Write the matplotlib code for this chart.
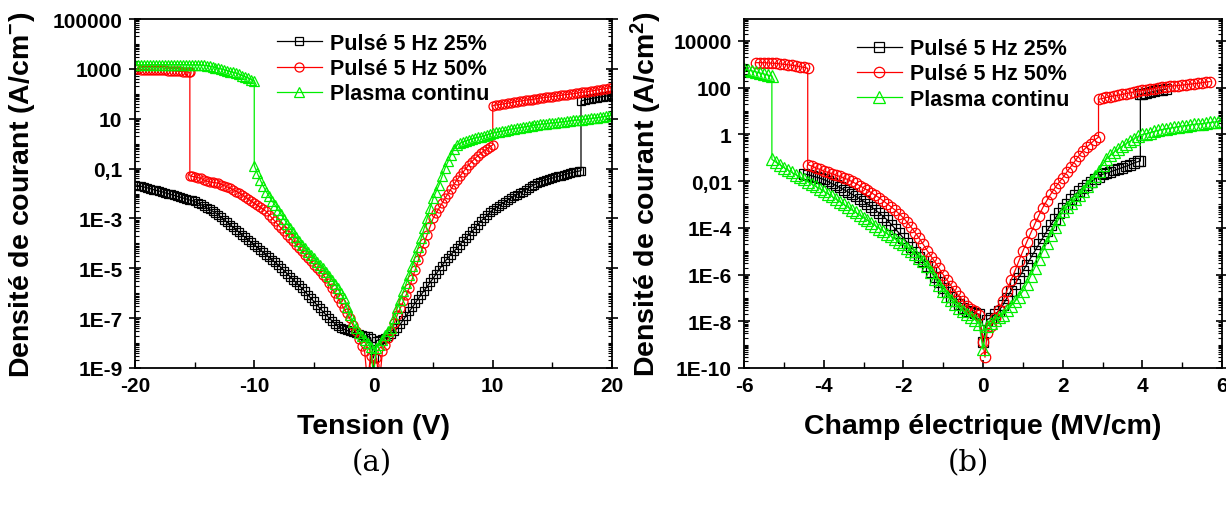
import numpy as np
import matplotlib
matplotlib.use("Agg")
import matplotlib.pyplot as plt
from matplotlib.ticker import FixedLocator, FixedFormatter, LogLocator, NullFormatter, MultipleLocator

plt.rcParams['font.family'] = ['Liberation Sans', 'DejaVu Sans']
plt.rcParams['font.weight'] = 'bold'
plt.rcParams['mathtext.default'] = 'regular'
plt.rcParams['axes.unicode_minus'] = False

series_labels = ["Pulsé 5 Hz 25%", "Pulsé 5 Hz 50%", "Plasma continu"]

# ---------------- Panel (a): (voltage V, log10 J [A/cm²]) ----------------
pts_a_25 = [
    (-20, -1.65), (-19.75, -1.68), (-19.5, -1.71), (-19.25, -1.74), (-19, -1.77), (-18.75, -1.80),
    (-18.5, -1.84), (-18.25, -1.87), (-18, -1.90), (-17.75, -1.93), (-17.5, -1.97), (-17.25, -2.00),
    (-17, -2.04), (-16.75, -2.07), (-16.5, -2.11), (-16.25, -2.14), (-16, -2.18), (-15.75, -2.21),
    (-15.5, -2.25), (-15.25, -2.28), (-15, -2.32), (-14.75, -2.38), (-14.5, -2.44), (-14.25, -2.50),
    (-14, -2.57), (-13.75, -2.64), (-13.5, -2.71), (-13.25, -2.78), (-13, -2.86), (-12.75, -2.96),
    (-12.5, -3.06), (-12.25, -3.16), (-12, -3.26), (-11.75, -3.36), (-11.5, -3.46), (-11.25, -3.56),
    (-11, -3.66), (-10.75, -3.76), (-10.5, -3.86), (-10.25, -3.96), (-10, -4.06), (-9.75, -4.16),
    (-9.5, -4.26), (-9.25, -4.36), (-9, -4.46), (-8.75, -4.56), (-8.5, -4.66), (-8.25, -4.76),
    (-8, -4.86), (-7.75, -4.97), (-7.5, -5.09), (-7.25, -5.21), (-7, -5.33), (-6.75, -5.45),
    (-6.5, -5.57), (-6.25, -5.68), (-6, -5.80), (-5.75, -5.93), (-5.5, -6.07), (-5.25, -6.20),
    (-5, -6.33), (-4.75, -6.47), (-4.5, -6.60), (-4.25, -6.73), (-4, -6.86), (-3.75, -6.98),
    (-3.5, -7.10), (-3.25, -7.22), (-3, -7.33), (-2.75, -7.39), (-2.5, -7.44), (-2.25, -7.49),
    (-2, -7.53), (-1.75, -7.57), (-1.5, -7.60), (-1.25, -7.63), (-1, -7.66), (-0.75, -7.70),
    (-0.5, -7.73), (-0.25, -7.78), (0, -8.60), (0.25, -7.90), (0.5, -7.86), (0.75, -7.83),
    (1, -7.80), (1.25, -7.71), (1.5, -7.62), (1.75, -7.51), (2, -7.40), (2.25, -7.24),
    (2.5, -7.07), (2.75, -6.90), (3, -6.73), (3.25, -6.57), (3.5, -6.40), (3.75, -6.23),
    (4, -6.06), (4.25, -5.90), (4.5, -5.73), (4.75, -5.57), (5, -5.40), (5.25, -5.23),
    (5.5, -5.06), (5.75, -4.89), (6, -4.72), (6.25, -4.58), (6.5, -4.45), (6.75, -4.32),
    (7, -4.19), (7.25, -4.05), (7.5, -3.92), (7.75, -3.79), (8, -3.66), (8.25, -3.52),
    (8.5, -3.39), (8.75, -3.25), (9, -3.12), (9.25, -3.00), (9.5, -2.88), (9.75, -2.76),
    (10, -2.65), (10.25, -2.57), (10.5, -2.49), (10.75, -2.41), (11, -2.34), (11.25, -2.26),
    (11.5, -2.19), (11.75, -2.12), (12, -2.05), (12.25, -1.98), (12.5, -1.92), (12.75, -1.85),
    (13, -1.78), (13.25, -1.71), (13.5, -1.65), (13.75, -1.58), (14, -1.52), (14.25, -1.48),
    (14.5, -1.45), (14.75, -1.41), (15, -1.38), (15.25, -1.34), (15.5, -1.31), (15.75, -1.28),
    (16, -1.25), (16.25, -1.21), (16.5, -1.18), (16.75, -1.15), (17, -1.12), (17.25, -1.10),
    (17.4, -1.08), (17.4, 1.71), (17.75, 1.76), (18, 1.78), (18.25, 1.81), (18.5, 1.83),
    (18.75, 1.85), (19, 1.87), (19.25, 1.89), (19.5, 1.91), (19.75, 1.93), (20, 1.95)]

pts_a_50 = [
    (-20, 2.98), (-19.75, 2.98), (-19.5, 2.97), (-19.25, 2.97), (-19, 2.97), (-18.75, 2.96),
    (-18.5, 2.96), (-18.25, 2.95), (-18, 2.95), (-17.75, 2.94), (-17.5, 2.94), (-17.25, 2.93),
    (-17, 2.93), (-16.75, 2.92), (-16.5, 2.91), (-16.25, 2.90), (-16, 2.89), (-15.75, 2.88),
    (-15.5, 2.87), (-15.4, 2.86), (-15.4, -1.29), (-15.25, -1.31), (-15, -1.33), (-14.75, -1.36),
    (-14.5, -1.39), (-14.25, -1.45), (-14, -1.50), (-13.75, -1.53), (-13.5, -1.55), (-13.25, -1.57),
    (-13, -1.59), (-12.75, -1.64), (-12.5, -1.69), (-12.25, -1.74), (-12, -1.79), (-11.75, -1.85),
    (-11.5, -1.92), (-11.25, -1.98), (-11, -2.05), (-10.75, -2.13), (-10.5, -2.22), (-10.25, -2.30),
    (-10, -2.39), (-9.75, -2.47), (-9.5, -2.55), (-9.25, -2.63), (-9, -2.72), (-8.75, -2.85),
    (-8.5, -2.99), (-8.25, -3.12), (-8, -3.26), (-7.75, -3.39), (-7.5, -3.52), (-7.25, -3.65),
    (-7, -3.79), (-6.75, -3.92), (-6.5, -4.05), (-6.25, -4.18), (-6, -4.32), (-5.75, -4.45),
    (-5.5, -4.59), (-5.25, -4.72), (-5, -4.86), (-4.75, -4.99), (-4.5, -5.12), (-4.25, -5.25),
    (-4, -5.39), (-3.75, -5.60), (-3.5, -5.80), (-3.25, -6.00), (-3, -6.20), (-2.75, -6.40),
    (-2.5, -6.60), (-2.25, -6.80), (-2, -7.00), (-1.75, -7.27), (-1.5, -7.53), (-1.25, -7.83),
    (-1, -8.13), (-0.75, -8.30), (-0.5, -9.60), (-0.25, -8.50), (0, -8.87), (0.25, -8.60),
    (0.5, -9.60), (0.75, -8.33), (1, -8.06), (1.25, -7.80), (1.5, -7.53), (1.75, -7.20),
    (2, -6.86), (2.25, -6.60), (2.5, -6.33), (2.75, -6.06), (3, -5.79), (3.25, -5.42),
    (3.5, -5.05), (3.75, -4.68), (4, -4.32), (4.25, -3.98), (4.5, -3.65), (4.75, -3.32),
    (5, -2.99), (5.25, -2.79), (5.5, -2.59), (5.75, -2.39), (6, -2.19), (6.25, -2.00),
    (6.5, -1.82), (6.75, -1.63), (7, -1.45), (7.25, -1.30), (7.5, -1.15), (7.75, -1.00),
    (8, -0.85), (8.25, -0.72), (8.5, -0.60), (8.75, -0.49), (9, -0.38), (9.25, -0.30),
    (9.5, -0.22), (9.75, -0.13), (10, -0.05), (10, 1.53), (10.25, 1.55), (10.5, 1.56),
    (10.75, 1.58), (11, 1.60), (11.25, 1.62), (11.5, 1.64), (11.75, 1.66), (12, 1.69),
    (12.25, 1.70), (12.5, 1.72), (12.75, 1.74), (13, 1.76), (13.25, 1.77), (13.5, 1.79),
    (13.75, 1.81), (14, 1.83), (14.25, 1.84), (14.5, 1.86), (14.75, 1.87), (15, 1.89),
    (15.25, 1.90), (15.5, 1.92), (15.75, 1.94), (16, 1.96), (16.25, 1.97), (16.5, 1.99),
    (16.75, 2.00), (17, 2.02), (17.25, 2.04), (17.5, 2.06), (17.75, 2.07), (18, 2.09),
    (18.25, 2.11), (18.5, 2.13), (18.75, 2.15), (19, 2.17), (19.25, 2.19), (19.5, 2.21),
    (19.75, 2.23), (20, 2.25)]

pts_a_pc = [
    (-20, 3.16), (-19.75, 3.16), (-19.5, 3.16), (-19.25, 3.16), (-19, 3.17), (-18.75, 3.17),
    (-18.5, 3.17), (-18.25, 3.17), (-18, 3.17), (-17.75, 3.17), (-17.5, 3.17), (-17.25, 3.17),
    (-17, 3.17), (-16.75, 3.17), (-16.5, 3.17), (-16.25, 3.17), (-16, 3.17), (-15.75, 3.17),
    (-15.5, 3.16), (-15.25, 3.16), (-15, 3.16), (-14.75, 3.16), (-14.5, 3.15), (-14.25, 3.14),
    (-14, 3.13), (-13.75, 3.11), (-13.5, 3.08), (-13.25, 3.05), (-13, 3.02), (-12.75, 2.99),
    (-12.5, 2.96), (-12.25, 2.93), (-12, 2.89), (-11.75, 2.86), (-11.5, 2.82), (-11.25, 2.78),
    (-11, 2.73), (-10.75, 2.68), (-10.5, 2.63), (-10.25, 2.57), (-10, 2.51), (-10, -0.88),
    (-9.75, -1.18), (-9.5, -1.45), (-9.25, -1.70), (-9, -1.92), (-8.75, -2.12), (-8.5, -2.30),
    (-8.25, -2.48), (-8, -2.65), (-7.75, -2.84), (-7.5, -3.02), (-7.25, -3.21), (-7, -3.39),
    (-6.75, -3.56), (-6.5, -3.73), (-6.25, -3.90), (-6, -4.06), (-5.75, -4.20), (-5.5, -4.33),
    (-5.25, -4.46), (-5, -4.59), (-4.75, -4.73), (-4.5, -4.86), (-4.25, -5.00), (-4, -5.13),
    (-3.75, -5.29), (-3.5, -5.45), (-3.25, -5.62), (-3, -5.79), (-2.75, -5.99), (-2.5, -6.19),
    (-2.25, -6.55), (-2, -6.86), (-1.75, -7.15), (-1.5, -7.40), (-1.25, -7.58), (-1, -7.73),
    (-0.75, -7.87), (-0.5, -8.00), (-0.25, -8.15), (0, -9.30), (0.25, -8.20), (0.5, -8.06),
    (0.75, -7.86), (1, -7.66), (1.25, -7.53), (1.5, -7.40), (1.75, -7.00), (2, -6.60),
    (2.25, -6.26), (2.5, -5.93), (2.75, -5.60), (3, -5.26), (3.25, -4.89), (3.5, -4.52),
    (3.75, -4.16), (4, -3.79), (4.25, -3.39), (4.5, -2.99), (4.75, -2.59), (5, -2.19),
    (5.25, -1.92), (5.5, -1.65), (5.75, -1.31), (6, -0.98), (6.25, -0.71), (6.5, -0.45),
    (6.75, -0.22), (7, -0.05), (7.25, 0.01), (7.5, 0.07), (7.75, 0.11), (8, 0.15),
    (8.25, 0.19), (8.5, 0.22), (8.75, 0.25), (9, 0.28), (9.25, 0.32), (9.5, 0.35),
    (9.75, 0.39), (10, 0.42), (10.25, 0.45), (10.5, 0.47), (10.75, 0.50), (11, 0.52),
    (11.25, 0.55), (11.5, 0.57), (11.75, 0.60), (12, 0.62), (12.25, 0.64), (12.5, 0.66),
    (12.75, 0.68), (13, 0.70), (13.25, 0.72), (13.5, 0.74), (13.75, 0.76), (14, 0.78),
    (14.25, 0.79), (14.5, 0.80), (14.75, 0.82), (15, 0.83), (15.25, 0.84), (15.5, 0.85),
    (15.75, 0.87), (16, 0.88), (16.25, 0.90), (16.5, 0.91), (16.75, 0.93), (17, 0.94),
    (17.25, 0.95), (17.5, 0.96), (17.75, 0.98), (18, 0.99), (18.25, 1.01), (18.5, 1.02),
    (18.75, 1.04), (19, 1.06), (19.25, 1.08), (19.5, 1.10), (19.75, 1.12), (20, 1.13)]

# ---------------- Panel (b): (field MV/cm, log10 J [A/cm²]) ----------------
pts_b_25 = [
    (-4.5, -1.69), (-4.4, -1.72), (-4.3, -1.77), (-4.2, -1.82), (-4.1, -1.87), (-4.0, -1.93),
    (-3.9, -2.01), (-3.8, -2.10), (-3.7, -2.18), (-3.6, -2.27), (-3.5, -2.36), (-3.4, -2.45),
    (-3.3, -2.55), (-3.2, -2.65), (-3.1, -2.75), (-3.0, -2.86), (-2.9, -2.98), (-2.8, -3.11),
    (-2.7, -3.24), (-2.6, -3.37), (-2.5, -3.52), (-2.4, -3.67), (-2.3, -3.86), (-2.2, -4.05),
    (-2.1, -4.24), (-2.0, -4.43), (-1.9, -4.63), (-1.8, -4.83), (-1.7, -5.03), (-1.6, -5.23),
    (-1.5, -5.44), (-1.4, -5.65), (-1.3, -5.87), (-1.2, -6.10), (-1.1, -6.33), (-1.0, -6.57),
    (-0.9, -6.76), (-0.8, -6.95), (-0.7, -7.12), (-0.6, -7.28), (-0.5, -7.43), (-0.4, -7.55),
    (-0.3, -7.60), (-0.2, -7.64), (-0.1, -7.70), (0.0, -8.90), (0.1, -7.93), (0.2, -7.85),
    (0.3, -7.70), (0.4, -7.55), (0.5, -7.30), (0.6, -7.00), (0.7, -6.70), (0.8, -6.40),
    (0.9, -6.13), (1.0, -5.86), (1.1, -5.57), (1.2, -5.28), (1.3, -5.00), (1.4, -4.71),
    (1.5, -4.43), (1.6, -4.15), (1.7, -3.88), (1.8, -3.62), (1.9, -3.38), (2.0, -3.14),
    (2.1, -2.96), (2.2, -2.78), (2.3, -2.60), (2.4, -2.43), (2.5, -2.29), (2.6, -2.15),
    (2.7, -2.03), (2.8, -1.92), (2.9, -1.81), (3.0, -1.71), (3.1, -1.66), (3.2, -1.60),
    (3.3, -1.54), (3.4, -1.48), (3.5, -1.42), (3.6, -1.36), (3.7, -1.29), (3.8, -1.22),
    (3.9, -1.16), (3.95, -1.14), (3.95, 1.71), (4.0, 1.72), (4.1, 1.76), (4.2, 1.80),
    (4.3, 1.84), (4.4, 1.88), (4.5, 1.91), (4.6, 1.94)]

pts_b_50 = [
    (-5.7, 3.07), (-5.6, 3.07), (-5.5, 3.07), (-5.4, 3.06), (-5.3, 3.05), (-5.2, 3.04),
    (-5.1, 3.02), (-5.0, 3.00), (-4.9, 2.98), (-4.8, 2.96), (-4.7, 2.93), (-4.6, 2.90),
    (-4.5, 2.87), (-4.4, 2.83), (-4.4, -1.29), (-4.3, -1.36), (-4.2, -1.43), (-4.1, -1.50),
    (-4.0, -1.57), (-3.9, -1.62), (-3.8, -1.68), (-3.7, -1.74), (-3.6, -1.80), (-3.5, -1.86),
    (-3.4, -1.93), (-3.3, -2.01), (-3.2, -2.10), (-3.1, -2.19), (-3.0, -2.29), (-2.9, -2.39),
    (-2.8, -2.50), (-2.7, -2.61), (-2.6, -2.72), (-2.5, -2.85), (-2.4, -2.98), (-2.3, -3.11),
    (-2.2, -3.25), (-2.1, -3.41), (-2.0, -3.57), (-1.9, -3.77), (-1.8, -3.98), (-1.7, -4.21),
    (-1.6, -4.45), (-1.5, -4.71), (-1.4, -4.98), (-1.3, -5.23), (-1.2, -5.48), (-1.1, -5.74),
    (-1.0, -6.00), (-0.9, -6.24), (-0.8, -6.48), (-0.7, -6.71), (-0.6, -6.93), (-0.5, -7.14),
    (-0.4, -7.35), (-0.3, -7.48), (-0.2, -7.57), (-0.1, -7.75), (0.0, -8.90), (0.05, -9.54),
    (0.1, -8.50), (0.2, -8.21), (0.3, -7.85), (0.4, -7.50), (0.5, -7.14), (0.6, -6.70),
    (0.7, -6.25), (0.8, -5.85), (0.9, -5.42), (1.0, -5.00), (1.1, -4.60), (1.2, -4.22),
    (1.3, -3.84), (1.4, -3.48), (1.5, -3.14), (1.6, -2.84), (1.7, -2.56), (1.8, -2.30),
    (1.9, -2.07), (2.0, -1.86), (2.1, -1.62), (2.2, -1.39), (2.3, -1.16), (2.4, -0.93),
    (2.5, -0.71), (2.6, -0.55), (2.7, -0.40), (2.8, -0.24), (2.9, -0.12), (2.9, 1.50),
    (3.0, 1.54), (3.1, 1.58), (3.2, 1.62), (3.3, 1.65), (3.4, 1.68), (3.5, 1.71),
    (3.6, 1.75), (3.7, 1.78), (3.8, 1.82), (3.9, 1.85), (4.0, 1.88), (4.1, 1.91),
    (4.2, 1.94), (4.3, 1.96), (4.4, 2.00), (4.5, 2.03), (4.6, 2.05), (4.7, 2.06),
    (4.8, 2.08), (4.9, 2.09), (5.0, 2.11), (5.1, 2.13), (5.2, 2.15), (5.3, 2.17),
    (5.4, 2.19), (5.5, 2.21), (5.6, 2.24), (5.7, 2.26)]

pts_b_pc = [
    (-6.0, 2.79), (-5.9, 2.76), (-5.8, 2.72), (-5.7, 2.68), (-5.6, 2.63), (-5.5, 2.59),
    (-5.4, 2.54), (-5.3, 2.50), (-5.3, -1.07), (-5.2, -1.19), (-5.1, -1.30), (-5.0, -1.42),
    (-4.9, -1.53), (-4.8, -1.63), (-4.7, -1.73), (-4.6, -1.83), (-4.5, -1.93), (-4.4, -2.03),
    (-4.3, -2.13), (-4.2, -2.23), (-4.1, -2.33), (-4.0, -2.43), (-3.9, -2.54), (-3.8, -2.65),
    (-3.7, -2.77), (-3.6, -2.88), (-3.5, -3.00), (-3.4, -3.11), (-3.3, -3.23), (-3.2, -3.34),
    (-3.1, -3.46), (-3.0, -3.57), (-2.9, -3.68), (-2.8, -3.80), (-2.7, -3.91), (-2.6, -4.03),
    (-2.5, -4.14), (-2.4, -4.26), (-2.3, -4.37), (-2.2, -4.49), (-2.1, -4.60), (-2.0, -4.71),
    (-1.9, -4.85), (-1.8, -4.99), (-1.7, -5.13), (-1.6, -5.28), (-1.5, -5.43), (-1.4, -5.65),
    (-1.3, -5.90), (-1.2, -6.18), (-1.1, -6.45), (-1.0, -6.71), (-0.9, -6.90), (-0.8, -7.08),
    (-0.7, -7.25), (-0.6, -7.42), (-0.5, -7.57), (-0.4, -7.70), (-0.3, -7.80), (-0.2, -7.93),
    (-0.1, -8.10), (0.0, -9.20), (0.1, -8.20), (0.2, -8.07), (0.3, -7.95), (0.4, -7.83),
    (0.5, -7.71), (0.6, -7.53), (0.7, -7.35), (0.8, -7.15), (0.9, -6.95), (1.0, -6.71),
    (1.1, -6.40), (1.2, -6.05), (1.3, -5.70), (1.4, -5.35), (1.5, -5.00), (1.6, -4.65),
    (1.7, -4.30), (1.8, -3.95), (1.9, -3.62), (2.0, -3.29), (2.1, -3.10), (2.2, -2.94),
    (2.3, -2.78), (2.4, -2.61), (2.5, -2.43), (2.6, -2.22), (2.7, -2.00), (2.8, -1.78),
    (2.9, -1.55), (3.0, -1.29), (3.1, -1.05), (3.2, -0.90), (3.3, -0.75), (3.4, -0.62),
    (3.5, -0.50), (3.6, -0.39), (3.7, -0.28), (3.8, -0.18), (3.9, -0.08), (4.0, 0.00),
    (4.1, 0.03), (4.2, 0.08), (4.3, 0.13), (4.4, 0.17), (4.5, 0.21), (4.6, 0.24),
    (4.7, 0.27), (4.8, 0.30), (4.9, 0.33), (5.0, 0.36), (5.1, 0.38), (5.2, 0.41),
    (5.3, 0.43), (5.4, 0.45), (5.5, 0.46), (5.6, 0.49), (5.7, 0.51), (5.8, 0.53),
    (5.9, 0.55), (6.0, 0.57)]

# tick labels
xticks_a = [-20, -10, 0, 10, 20]
yticks_a = [1e-9, 1e-7, 1e-5, 1e-3, 1e-1, 1e1, 1e3, 1e5]
ylabels_a = ["1E-9", "1E-7", "1E-5", "1E-3", "0,1", "10", "1000", "100000"]
xticks_b = [-6, -4, -2, 0, 2, 4, 6]
yticks_b = [1e-10, 1e-8, 1e-6, 1e-4, 1e-2, 1e0, 1e2, 1e4]
ylabels_b = ["1E-10", "1E-8", "1E-6", "1E-4", "0,01", "1", "100", "10000"]

colors = ["black", "red", "#00ee00"]
markers = ["s", "o", "^"]
msizes_a = [6, 6.5, 7]
msizes_b = [6.5, 7.5, 8]

fig = plt.figure(figsize=(12.26, 5.06), dpi=100)
W, H = 1226, 506
ax1 = fig.add_axes([135 / W, 1 - 369 / H, (612 - 135) / W, (369 - 20) / H])
ax2 = fig.add_axes([744 / W, 1 - 369 / H, (1222 - 744) / W, (369 - 20) / H])

data_a = [pts_a_25, pts_a_50, pts_a_pc]
data_b = [pts_b_25, pts_b_50, pts_b_pc]

for ax, data, msizes in ((ax1, data_a, msizes_a), (ax2, data_b, msizes_b)):
    for pts, c, m, ms, lab in zip(data, colors, markers, msizes, series_labels):
        x = np.array([p[0] for p in pts])
        ly = np.array([p[1] for p in pts])
        ax.plot(x, 10.0 ** ly, color=c, lw=0.9, marker=m, ms=ms,
                mfc='none', mec=c, mew=0.9, label=lab)
    ax.set_yscale('log')

ax1.set_xlim(-20, 20)
ax1.set_ylim(1e-9, 1e5)
ax2.set_xlim(-6, 6)
ax2.set_ylim(1e-10, 10 ** 4.94)

for ax, xt, yt, yl, minor_x in ((ax1, xticks_a, yticks_a, ylabels_a, 5),
                                (ax2, xticks_b, yticks_b, ylabels_b, 1)):
    ax.xaxis.set_major_locator(FixedLocator(xt))
    ax.xaxis.set_minor_locator(MultipleLocator(minor_x))
    ax.yaxis.set_major_locator(FixedLocator(yt))
    ax.yaxis.set_major_formatter(FixedFormatter(yl))
    ax.yaxis.set_minor_locator(LogLocator(base=10, subs=np.arange(1, 10), numticks=200))
    ax.yaxis.set_minor_formatter(NullFormatter())
    ax.tick_params(axis='x', which='major', direction='in', length=6, width=1.2,
                   labelsize=15, pad=6, top=False)
    ax.tick_params(axis='x', which='minor', direction='in', length=4, width=1.0, top=False)
    ax.tick_params(axis='y', which='major', direction='inout', length=8, width=1.2,
                   labelsize=15, pad=5, right=True)
    ax.tick_params(axis='y', which='minor', direction='in', length=3, width=0.8, right=True)
    for lab in ax.get_xticklabels() + ax.get_yticklabels():
        lab.set_fontweight('bold')
    for sp in ax.spines.values():
        sp.set_linewidth(1.3)

ax1.set_xlabel("Tension (V)", fontsize=20.5, fontweight='bold', labelpad=13)
ax1.set_ylabel("Densité de courant (A/cm$^{-}$)", fontsize=20.5, fontweight='bold', labelpad=11)
ax2.set_xlabel("Champ électrique (MV/cm)", fontsize=20.5, fontweight='bold', labelpad=13)
ax2.set_ylabel("Densité de courant (A/cm$^{2}$)", fontsize=20.5, fontweight='bold', labelpad=7)

leg_kw = dict(frameon=False, handlelength=2.1, handletextpad=0.4, labelspacing=0.2,
              prop={'weight': 'bold', 'size': 15.5}, borderaxespad=0)
ax1.legend(loc='upper left', bbox_to_anchor=((268 - 135) / 477, 0.985), **leg_kw)
ax2.legend(loc='upper left', bbox_to_anchor=((848 - 744) / 478, 0.97), **leg_kw)

fig.text(372 / W, 1 - 463 / H, "(a)", ha='center', va='center', fontsize=21,
         family=['DejaVu Serif'], fontweight='normal')
fig.text(968 / W, 1 - 463 / H, "(b)", ha='center', va='center', fontsize=21,
         family=['DejaVu Serif'], fontweight='normal')

fig.savefig("out.png", dpi=100)
